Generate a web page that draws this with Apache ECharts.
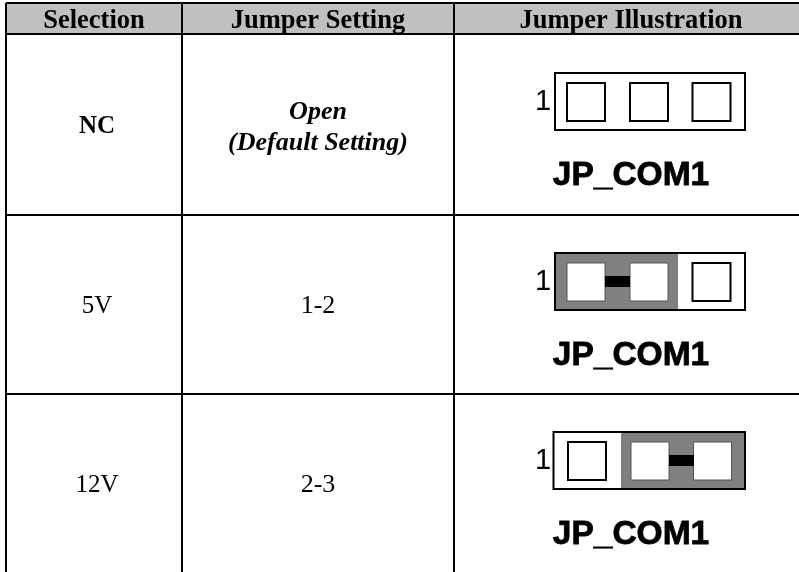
<!DOCTYPE html>
<html>
<head>
<meta charset="utf-8">
<style>
html, body { margin: 0; padding: 0; background: #fff; }
#main { width: 799px; height: 572px; }
</style>
<script src="https://cdn.jsdelivr.net/npm/echarts@6/dist/echarts.min.js"></script>
</head>
<body>
<div id="main"></div>
<script>
var headers = ['Selection', 'Jumper Setting', 'Jumper Illustration'];
var selections = ['NC', '5V', '12V'];
var settings = ['Open\n(Default Setting)', '1-2', '2-3'];
var jumperNames = ['JP_COM1', 'JP_COM1', 'JP_COM1'];
// which pins the cap closes, 0 = none, 1 = pins 1-2, 2 = pins 2-3
var capStart = [0, 1, 2];
var pinLabel = '1';

var colX = [6, 182, 454, 799];
var rowY = [3, 34, 215, 394, 572];
var headerX = [94, 318, 631];
var housingY = [73, 253, 432];
var housingX = [555, 555, 553.5];
var pinOffset = [0, 0, 1];
var nameY = [175.5, 355.5, 534.5];
var serif = '"Liberation Serif", "Times New Roman", serif';
var sans = '"Liberation Sans", Arial, sans-serif';
var els = [];

function rect(x, y, w, h, fill, stroke, lw) {
    els.push({ type: 'rect', shape: { x: x, y: y, width: w, height: h }, style: { fill: fill || 'transparent', stroke: stroke || null, lineWidth: lw || 0 } });
}
function line(x1, y1, x2, y2, lw) {
    els.push({ type: 'line', shape: { x1: x1, y1: y1, x2: x2, y2: y2 }, style: { stroke: '#000', lineWidth: lw } });
}
function text(x, y, s, font, lh, extra) {
    var style = { text: s, font: font, fill: '#000', align: 'center', verticalAlign: 'middle', lineHeight: lh || 31 };
    if (extra) {
        style.stroke = '#000';
        style.lineWidth = extra;
    }
    els.push({ type: 'text', x: x, y: y, style: style });
}

// one jumper drawing, top left of the housing is x0,y0
function jumper(x0, y0, start, offset) {
    var right = 745;
    var pinX = [567 + offset, 630 + offset, 692.5 + offset];
    var pinW = 38, pinH = 38;
    if (start === 1) {
        rect(x0, y0, 123, 57, '#808080');
    } else if (start === 2) {
        rect(621, y0, right - 621, 57, '#808080');
    }
    rect(x0, y0, right - x0, 57, null, '#000', 2);
    pinX.forEach(function (px, i) {
        var capped = start > 0 && (i === start - 1 || i === start);
        rect(px, y0 + 10, pinW, pinH, '#fff', capped ? '#555' : '#000', capped ? 1 : 2);
    });
    if (start > 0) {
        rect(pinX[start - 1] + pinW, y0 + 23, 25, 11, '#000');
    }
    text(543, y0 + 29, pinLabel, '29px ' + sans);
}

rect(colX[0], rowY[0], colX[3] - colX[0], rowY[1] - rowY[0], '#c0c0c0');
headers.forEach(function (h, i) {
    text(headerX[i], 21.5, h, 'bold 26.5px ' + serif);
});
selections.forEach(function (s, i) {
    var cy = (rowY[i + 1] + rowY[i + 2]) / 2;
    text(97, cy + 2, s, (i === 0 ? 'bold ' : '') + '25px ' + serif);
    text(318, cy + (i === 0 ? 3 : 2), settings[i], (i === 0 ? 'italic bold ' : '') + '26px ' + serif);
    jumper(housingX[i], housingY[i], capStart[i], pinOffset[i]);
    text(631, nameY[i], jumperNames[i], 'bold 33.5px ' + sans, 30, 0.8);
});

rowY.slice(0, 4).forEach(function (y) {
    line(colX[0], y, colX[3], y, 2);
});
colX.slice(0, 3).forEach(function (x) {
    line(x, rowY[0], x, rowY[4], 2);
});

var chart = echarts.init(document.getElementById('main'));
chart.setOption({ animation: false, backgroundColor: '#fff', graphic: { elements: els } });
</script>
</body>
</html>
